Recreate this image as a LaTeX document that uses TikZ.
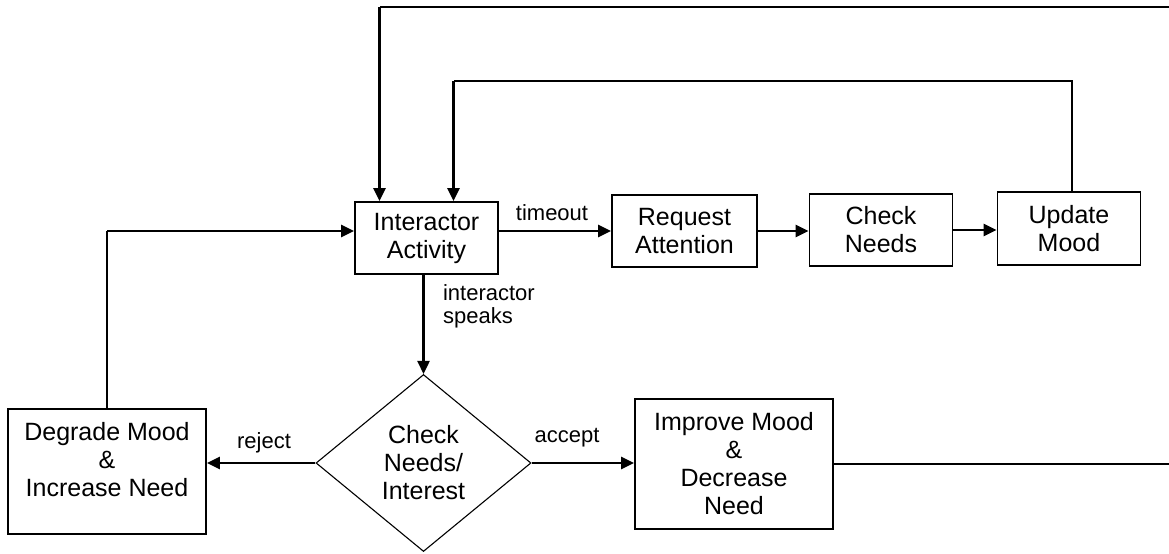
\documentclass[tikz,border=0pt]{standalone}
\usepackage{fontspec}
\setmainfont{Liberation Sans}
\usetikzlibrary{arrows.meta, positioning, shapes.geometric, calc}

\tikzset{
  box/.style={draw, line width=0.85pt, align=center, inner sep=2pt, font=\fontsize{12.5}{14}\selectfont},
  topbox/.style={box, minimum width=71.5pt, minimum height=36pt},
  bigbox/.style={box, minimum width=99pt, minimum height=65pt},
  decision/.style={diamond, draw, line width=0.55pt, align=center, inner sep=0pt, minimum width=107.5pt, minimum height=88.5pt, font=\fontsize{12.5}{14}\selectfont},
  flow/.style={line width=1.3pt, -{Triangle[length=6.5pt, width=6pt]}},
  link/.style={line width=0.7pt},
  lbl/.style={font=\fontsize{11}{11.5}\selectfont}
}

\begin{document}
\begin{tikzpicture}[x=0.5pt, y=-0.5pt]
    % Setup
    \useasboundingbox (0,0) rectangle (1169,553);
    \clip (0,0) rectangle (1169,553);

    % --- Main row ---
    \node[topbox] (IA) at (426.5,238) {Interactor\\Activity};
    \node[topbox, minimum width=72.5pt] (RA) at (684.5,231) {Request\\Attention};
    \node[topbox] (CN) at (881,230) {Check\\Needs};
    \node[topbox, minimum height=36.5pt] (UM) at (1069,228.5) {Update\\Mood};

    % --- Decision row ---
    \node[decision] (CI) at (423.5,463) {Check\\Needs/\\Interest};
    \node[bigbox, minimum height=62.5pt] (DM) at (107,471.5) {};
    \node[align=center, font=\fontsize{12.5}{14}\selectfont] (DMtext) at (107,460) {Degrade Mood\\\&\\Increase Need};
    \node[bigbox] (IM) at (734,464) {Improve Mood\\\&\\Decrease\\Need};

    % Row arrows
    \draw[flow] (IA.east |- RA.west) -- (RA.west);
    \draw[flow] (RA.east) -- (RA.east -| CN.west);
    \draw[flow] (CN.east) -- (CN.east -| UM.west);
    \node[lbl] (tmo) at (552,213) {timeout};

    % Decision arrows
    \draw[flow] (CI.north |- IA.south) -- (CI.north);
    \node[lbl, anchor=west, align=left] (spk) at (436,306) {interactor\\speaks};
    \draw[flow] (CI.west) -- (DM.east |- CI.west);
    \node[lbl] (rej) at (264,443) {reject};
    \draw[flow] (CI.east) -- (IM.west |- CI.east);
    \node[lbl] (acc) at (567,438) {accept};

    % Back to Interactor Activity
    \coordinate (DMup) at (DM.north |- RA.west);
    \draw[link] (DM.north) -- (DMup);
    \draw[flow] (DMup) -- (DMup -| IA.west);

    % Loop from Update Mood
    \coordinate (Y2) at (0,81);
    \coordinate (Out2) at ($(UM.north)+(3,0)$);
    \coordinate (In2) at ($(IA.north)+(27,0)$);
    \draw[link] (Out2) -- (Out2 |- Y2) -- (In2 |- Y2);
    \draw[flow] (In2 |- Y2) -- (In2);

    % Loop from Improve Mood (runs past the right edge)
    \coordinate (Y1) at (0,7);
    \coordinate (Edge) at (1180,0);
    \coordinate (In1) at ($(IA.north)+(-47,0)$);
    \draw[link] (IM.east) -- (IM.east -| Edge) -- (Edge |- Y1) -- (In1 |- Y1);
    \draw[flow] (In1 |- Y1) -- (In1);
\end{tikzpicture}
\end{document}
